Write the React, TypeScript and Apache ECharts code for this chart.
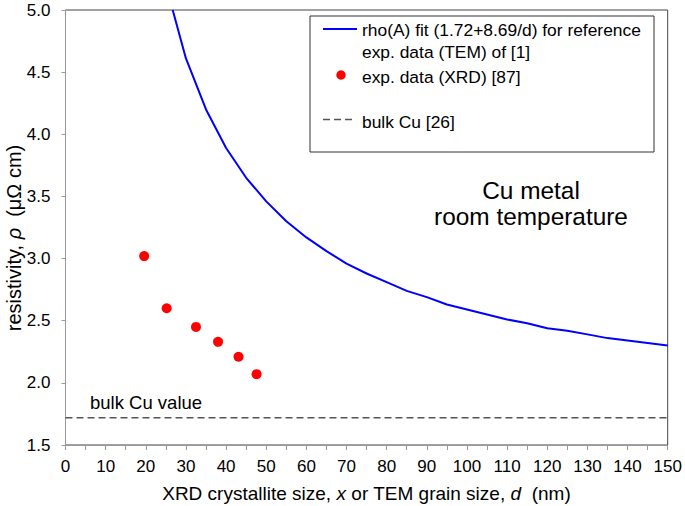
import React, { useEffect, useRef } from "react";
import * as echarts from "echarts";

const fitX = [26.7, 30, 35, 40, 45, 50, 55, 60, 65, 70, 75, 80, 85, 90, 95, 100, 105, 110, 115, 120, 125, 130, 135, 140, 145, 150];
const fitY = [5.0, 4.61, 4.2, 3.89, 3.65, 3.46, 3.3, 3.17, 3.06, 2.96, 2.88, 2.81, 2.74, 2.69, 2.63, 2.59, 2.55, 2.51, 2.48, 2.44, 2.42, 2.39, 2.36, 2.34, 2.32, 2.3];
const xrdX = [19.6, 25.2, 32.5, 38.0, 43.1, 47.6];
const xrdY = [3.02, 2.6, 2.45, 2.33, 2.21, 2.07];
const bulkX = [0, 150];
const bulkY = [1.72, 1.72];

const FONT = "'Liberation Sans', Arial, sans-serif";

export default function App() {
  const ref = useRef<HTMLDivElement>(null);
  useEffect(() => {
    if (!ref.current) return;
    const chart = echarts.init(ref.current, null, { renderer: "svg" });
    chart.setOption({
      animation: false,
      backgroundColor: "#ffffff",
      textStyle: { fontFamily: FONT, color: "#000" },
      grid: {
        left: 65.5,
        right: 17.3,
        top: 10,
        bottom: 61,
        show: true,
        borderColor: "#444",
        borderWidth: 1,
        backgroundColor: "transparent",
      },
      xAxis: {
        type: "value",
        min: 0,
        max: 150,
        interval: 10,
        axisLine: { show: true, onZero: false, lineStyle: { color: "#999", width: 1 } },
        axisTick: { show: true, length: 5, lineStyle: { color: "#999" } },
        minorTick: { show: true, splitNumber: 2, length: 5, lineStyle: { color: "#999" } },
        splitLine: { show: false },
        axisLabel: { fontSize: 17, color: "#000", margin: 13, fontFamily: FONT },
      },
      yAxis: {
        type: "value",
        min: 1.5,
        max: 5.0,
        interval: 0.5,
        axisLine: { show: true, onZero: false, lineStyle: { color: "#999", width: 1 } },
        axisTick: { show: true, length: 4, lineStyle: { color: "#999" } },
        splitLine: { show: false },
        axisLabel: {
          fontSize: 17,
          color: "#000",
          margin: 15,
          fontFamily: FONT,
          formatter: (v: number) => v.toFixed(1),
        },
      },
      series: [
        {
          name: "rho(A) fit (1.72+8.69/d) for reference exp. data (TEM) of [1]",
          type: "line",
          data: fitX.map((x, i) => [x, fitY[i]]),
          showSymbol: false,
          lineStyle: { color: "#0000ff", width: 2 },
          itemStyle: { color: "#0000ff" },
          clip: true,
          z: 3,
        },
        {
          name: "exp. data (XRD) [87]",
          type: "scatter",
          data: xrdX.map((x, i) => [x, xrdY[i]]),
          symbol: "circle",
          symbolSize: 10,
          itemStyle: { color: "#ff0000", opacity: 1 },
          z: 4,
        },
        {
          name: "bulk Cu [26]",
          type: "line",
          data: bulkX.map((x, i) => [x, bulkY[i]]),
          showSymbol: false,
          lineStyle: { color: "#555", width: 1.5, type: [7, 4] },
          itemStyle: { color: "#555" },
          z: 2,
        },
      ],
      graphic: [
        {
          type: "rect",
          shape: { x: 310, y: 16, width: 344, height: 136 },
          style: { fill: "#fff", stroke: "#333", lineWidth: 1 },
          z: 10,
        },
        {
          type: "line",
          shape: { x1: 323, y1: 29, x2: 357, y2: 29 },
          style: { stroke: "#0000ff", lineWidth: 2 },
          z: 11,
        },
        {
          type: "text",
          x: 362,
          y: 30,
          style: {
            text: "rho(A) fit (1.72+8.69/d) for reference",
            font: `17.4px ${FONT}`,
            fill: "#000",
            verticalAlign: "middle",
          },
          z: 11,
        },
        {
          type: "text",
          x: 362,
          y: 52,
          style: {
            text: "exp. data (TEM) of [1]",
            font: `17.4px ${FONT}`,
            fill: "#000",
            verticalAlign: "middle",
          },
          z: 11,
        },
        {
          type: "circle",
          shape: { cx: 341, cy: 75, r: 4.7 },
          style: { fill: "#ff0000" },
          z: 11,
        },
        {
          type: "text",
          x: 362,
          y: 77,
          style: {
            text: "exp. data (XRD) [87]",
            font: `17.4px ${FONT}`,
            fill: "#000",
            verticalAlign: "middle",
          },
          z: 11,
        },
        {
          type: "line",
          shape: { x1: 323, y1: 119.5, x2: 355, y2: 119.5 },
          style: { stroke: "#555", lineWidth: 1.5, lineDash: [7, 4] },
          z: 11,
        },
        {
          type: "text",
          x: 362,
          y: 121.5,
          style: {
            text: "bulk Cu [26]",
            font: `17.4px ${FONT}`,
            fill: "#000",
            verticalAlign: "middle",
          },
          z: 11,
        },
        {
          type: "text",
          x: 531,
          y: 190,
          style: {
            text: "Cu metal",
            font: `24.4px ${FONT}`,
            fill: "#000",
            align: "center",
            verticalAlign: "middle",
          },
          z: 11,
        },
        {
          type: "text",
          x: 531,
          y: 216.5,
          style: {
            text: "room temperature",
            font: `24.4px ${FONT}`,
            fill: "#000",
            align: "center",
            verticalAlign: "middle",
          },
          z: 11,
        },
        {
          type: "text",
          x: 90,
          y: 402,
          style: {
            text: "bulk Cu value",
            font: `18.5px ${FONT}`,
            fill: "#000",
            verticalAlign: "middle",
          },
          z: 11,
        },
        {
          type: "text",
          x: 366.5,
          y: 493,
          style: {
            text: "XRD crystallite size, {i|x} or TEM grain size, {i|d}  (nm)",
            font: `19px ${FONT}`,
            fill: "#000",
            align: "center",
            verticalAlign: "middle",
            rich: {
              i: { fontStyle: "italic", fontSize: 19, fontFamily: FONT, fill: "#000" },
            },
          },
          z: 11,
        },
        {
          type: "text",
          x: 14,
          y: 238,
          rotation: Math.PI / 2,
          style: {
            text: "resistivity, {i|ρ}  (μΩ cm)",
            font: `20px ${FONT}`,
            fill: "#000",
            align: "center",
            verticalAlign: "middle",
            rich: {
              i: { fontStyle: "italic", fontSize: 20, fontFamily: FONT, fill: "#000" },
            },
          },
          z: 11,
        },
      ],
    });
    return () => chart.dispose();
  }, []);
  return (
    <div
      ref={ref}
      style={{ position: "fixed", left: 0, top: 0, width: 685, height: 506 }}
    />
  );
}
